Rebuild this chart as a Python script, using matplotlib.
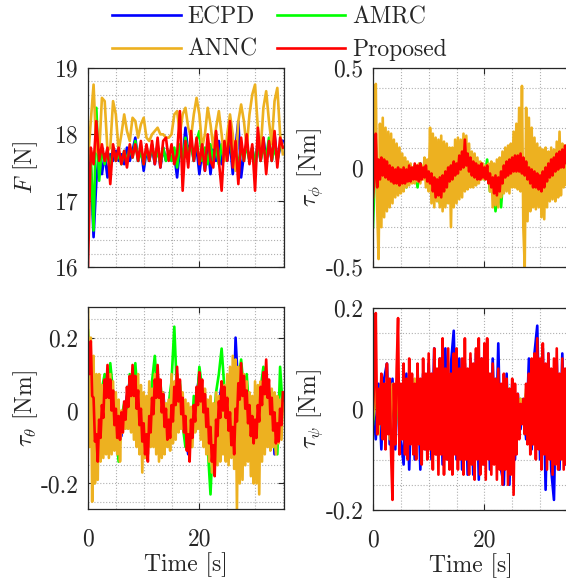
import numpy as np
import matplotlib
matplotlib.use("Agg")
import matplotlib.pyplot as plt
from matplotlib.ticker import MultipleLocator, FixedLocator, FixedFormatter

plt.rcParams['font.family'] = ['cmr10', 'DejaVu Serif']
plt.rcParams['mathtext.fontset'] = 'cm'
plt.rcParams['axes.unicode_minus'] = False
plt.rcParams['axes.formatter.use_mathtext'] = True

# ---------------- data ----------------
time_s = np.linspace(0, 35, 71)      # 0.5 s samples
time_fine = np.linspace(0, 35, 141)  # 0.25 s samples

methods = ['ECPD', 'AMRC', 'ANNC', 'Proposed']
colors = ['#0000ff', '#00ff00', '#EDB120', '#ff0000']

F_ECPD = [17.6, 17.5, 16.45, 17.3, 17.75, 17.4, 17.7, 17.35, 17.7, 17.6,
          17.75, 17.6, 17.7, 17.55, 17.8, 17.6, 17.75, 17.95, 17.6, 17.8,
          17.45, 17.75, 17.6, 17.8, 17.55, 17.85, 17.5, 17.8, 17.6, 17.75,
          17.6, 17.7, 17.35, 17.8, 17.6, 18.1, 17.7, 17.9, 17.6, 17.8,
          17.4, 17.75, 17.45, 17.85, 17.4, 17.8, 17.6, 17.9, 17.55, 17.75,
          17.6, 17.9, 17.4, 17.8, 18.2, 17.35, 17.7, 17.85, 17.6, 17.8,
          17.5, 17.9, 17.6, 17.95, 17.6, 17.85, 17.6, 18.0, 17.6, 17.8,
          17.9]
F_AMRC = [17.6, 17.7, 16.55, 18.4, 17.3, 17.8, 17.55, 17.75, 17.5, 17.8,
          17.6, 17.7, 17.55, 17.75, 17.6, 17.8, 17.65, 17.9, 17.6, 17.75,
          17.55, 17.8, 17.6, 17.85, 17.6, 17.75, 17.55, 17.8, 17.6, 17.75,
          17.6, 17.8, 17.5, 17.85, 17.6, 17.95, 17.7, 17.85, 17.6, 17.9,
          18.05, 17.6, 17.8, 17.55, 17.85, 17.6, 17.8, 17.55, 17.85, 17.6,
          17.8, 17.95, 17.6, 17.75, 17.55, 17.8, 17.6, 17.85, 17.6, 17.8,
          17.55, 17.85, 17.6, 17.8, 17.65, 17.95, 17.6, 17.8, 17.6, 17.85,
          17.8]
F_ANNC = [17.6, 18.2, 18.75, 17.75, 17.7, 18.55, 18.5, 17.75, 17.8, 18.5,
          18.3, 17.75, 18.0, 18.3, 18.05, 17.9, 18.25, 18.2, 17.95, 18.15,
          18.25, 17.95, 17.9, 18.0, 18.05, 18.1, 18.0, 18.0, 17.95, 17.95,
          18.0, 18.3, 18.35, 18.0, 18.3, 18.4, 18.1, 17.95, 18.3, 18.55,
          18.3, 17.8, 18.0, 18.4, 18.15, 17.8, 18.1, 18.35, 18.0, 17.6,
          18.0, 18.3, 18.0, 17.45, 18.2, 18.45, 18.2, 17.8, 18.3, 18.6,
          18.75, 18.1, 17.75, 18.4, 18.65, 18.2, 17.85, 18.5, 18.7, 18.0,
          17.7]
F_Proposed = [16.0, 17.8, 17.55, 18.2, 17.6, 17.85, 17.6, 17.8, 17.25, 17.85,
              17.6, 17.8, 17.55, 17.75, 17.5, 17.85, 17.65, 17.85, 17.6, 17.9,
              17.55, 17.85, 17.6, 17.9, 17.55, 17.95, 17.5, 17.9, 17.95, 17.6,
              17.85, 17.55, 17.7, 18.35, 17.15, 17.9, 17.5, 18.05, 17.6, 17.95,
              17.55, 17.85, 17.45, 18.0, 17.6, 17.5, 18.05, 17.6, 17.15, 17.9,
              17.6, 18.2, 17.5, 17.9, 17.25, 17.95, 17.6, 18.0, 17.55, 17.85,
              17.15, 18.1, 17.6, 17.95, 17.4, 17.9, 17.6, 18.05, 17.5, 17.95,
              17.8]

phi_ECPD = [-0.1, 0.1, -0.08, 0.04, -0.05, 0.03, -0.06, 0.0, -0.08, -0.02,
            -0.08, -0.02, -0.08, 0.0, -0.06, 0.0, -0.06, 0.02, -0.05, 0.0,
            -0.08, -0.02, -0.13, -0.05, -0.14, -0.05, -0.1, 0.0, -0.05, 0.03,
            -0.03, 0.06, 0.0, 0.12, -0.02, 0.05, -0.05, 0.02, -0.05, 0.01,
            -0.05, 0.0, -0.1, -0.04, -0.12, -0.05, -0.1, 0.0, -0.05, 0.04,
            -0.03, 0.05, -0.02, 0.06, -0.04, 0.03, -0.07, -0.01, -0.09, -0.03,
            -0.11, -0.04, -0.1, 0.0, -0.05, 0.04, -0.03, 0.08, 0.0, 0.1,
            0.1]
phi_AMRC = [-0.3, 0.12, -0.1, 0.04, -0.06, 0.03, -0.07, 0.0, -0.08, -0.01,
            -0.09, -0.02, -0.1, 0.0, -0.06, 0.01, -0.1, 0.02, -0.04, 0.0,
            -0.08, -0.03, -0.14, -0.05, -0.18, -0.07, -0.18, 0.0, -0.05, 0.04,
            -0.02, 0.1, 0.02, 0.14, 0.0, 0.05, -0.04, 0.02, -0.06, 0.02,
            -0.06, 0.04, -0.12, -0.05, -0.22, -0.1, -0.2, 0.0, -0.06, 0.05,
            -0.03, 0.06, -0.03, 0.07, -0.05, 0.02, -0.09, -0.02, -0.1, -0.02,
            -0.12, -0.04, -0.1, 0.0, -0.06, 0.05, -0.04, 0.08, 0.0, 0.1,
            0.0]
phi_ANNC = [-0.15, 0.1, 0.42, -0.2, -0.46, 0.22, -0.3, 0.25,
            -0.25, 0.2, -0.22, 0.18, -0.2, 0.17, -0.18, 0.14,
            -0.15, 0.12, -0.14, 0.1, -0.13, 0.07, -0.12, 0.05,
            -0.1, 0.03, -0.09, 0.02, -0.08, 0.0, -0.08, 0.01,
            -0.07, 0.02, -0.08, 0.01, -0.06, 0.05, -0.1, 0.04,
            -0.12, 0.2, -0.18, 0.17, -0.2, 0.15, -0.17, 0.14,
            -0.2, 0.16, -0.22, 0.13, -0.2, 0.12, -0.18, 0.1,
            -0.3, 0.1, -0.2, 0.14, -0.18, 0.15, -0.16, 0.14,
            -0.15, 0.17, -0.12, 0.16, -0.11, 0.12, -0.1, 0.08,
            -0.1, 0.07, -0.09, 0.05, -0.08, 0.03, -0.06, 0.02,
            -0.06, 0.01, -0.05, 0.02, -0.12, 0.03, -0.2, 0.02,
            -0.19, 0.04, -0.2, 0.05, -0.15, 0.08, -0.13, 0.1,
            -0.12, 0.11, -0.13, 0.12, -0.1, 0.18, -0.1, 0.22,
            -0.11, 0.3, -0.12, 0.41, -0.3, -0.5, 0.3, -0.27,
            0.25, -0.22, 0.2, -0.2, 0.15, -0.21, 0.12, -0.2,
            0.1, -0.25, 0.09, -0.26, 0.1, -0.2, 0.08, -0.17,
            0.1, -0.16, 0.09, -0.17, 0.13, -0.15, 0.18, -0.14,
            0.12, -0.1, 0.11, -0.09, 0.08]
phi_Proposed = [-0.15, -0.05, 0.17, -0.1, 0.04, -0.06, 0.05, -0.04,
                0.04, -0.05, 0.03, -0.06, 0.01, -0.07, 0.0, -0.08,
                -0.01, -0.08, 0.0, -0.09, -0.01, -0.08, 0.0, -0.08,
                -0.01, -0.07, 0.01, -0.07, 0.0, -0.06, 0.02, -0.06,
                0.01, -0.07, 0.02, -0.06, 0.0, -0.05, 0.01, -0.07,
                -0.02, -0.08, -0.03, -0.12, -0.05, -0.15, -0.06, -0.14,
                -0.05, -0.15, -0.04, -0.12, -0.02, -0.1, 0.0, -0.07,
                0.01, -0.06, 0.03, -0.04, 0.02, -0.03, 0.06, -0.01,
                0.08, 0.0, 0.14, 0.01, 0.07, -0.02, 0.05, -0.04,
                0.03, -0.05, 0.02, -0.06, 0.01, -0.06, 0.02, -0.05,
                0.0, -0.06, 0.01, -0.08, -0.03, -0.1, -0.05, -0.13,
                -0.04, -0.14, -0.05, -0.12, -0.02, -0.08, 0.01, -0.05,
                0.03, -0.04, 0.04, -0.03, 0.05, -0.02, 0.06, -0.02,
                0.06, -0.02, 0.07, -0.03, 0.05, -0.04, 0.03, -0.06,
                0.0, -0.08, -0.01, -0.1, -0.02, -0.1, -0.03, -0.11,
                -0.04, -0.12, -0.02, -0.1, 0.0, -0.07, 0.02, -0.05,
                0.04, -0.04, 0.05, -0.02, 0.07, -0.01, 0.08, 0.0,
                0.09, 0.0, 0.11, 0.02, 0.05]

theta_ECPD = [0.1, 0.15, -0.05, -0.12, 0.02, -0.1, 0.07, 0.1, 0.02, 0.05,
              -0.05, -0.02, -0.07, 0.0, 0.04, 0.08, 0.1, 0.04, 0.02, -0.05,
              -0.02, -0.12, -0.05, 0.0, 0.05, 0.1, 0.02, 0.05, -0.04, -0.08,
              0.0, 0.05, 0.1, 0.03, 0.0, -0.07, -0.12, -0.02, -0.05, 0.04,
              0.1, 0.02, 0.04, -0.05, -0.02, -0.15, -0.05, 0.02, 0.07, 0.0,
              0.04, -0.07, -0.1, 0.2, 0.05, 0.1, 0.04, 0.07, -0.04, -0.08,
              -0.02, -0.05, 0.04, 0.08, 0.1, 0.02, 0.05, -0.12, -0.08, 0.0,
              0.03]
theta_AMRC = [0.22, 0.1, -0.2, 0.05, -0.1, 0.06, 0.1, 0.0, 0.13, 0.05,
              -0.05, -0.14, -0.02, 0.02, -0.04, 0.1, 0.04, 0.13, 0.02, -0.05,
              -0.1, 0.0, -0.06, 0.08, 0.15, 0.04, 0.08, -0.03, -0.06, 0.02,
              0.08, 0.23, 0.04, 0.08, -0.04, -0.1, -0.02, -0.1, 0.04, 0.0,
              0.12, 0.06, 0.03, -0.1, -0.23, -0.05, 0.05, 0.1, 0.17, 0.06,
              0.0, -0.06, -0.1, 0.0, 0.08, 0.14, 0.05, 0.1, -0.02, -0.08,
              0.02, -0.04, 0.06, 0.12, 0.08, 0.0, -0.05, -0.1, -0.12, 0.12,
              0.0]
theta_ANNC = [0.284, -0.1, 0.2, -0.25, 0.15, -0.2, 0.1, -0.19,
              0.1, -0.14, 0.07, -0.13, 0.05, -0.12, 0.08, -0.13,
              0.1, -0.12, 0.08, -0.11, 0.05, -0.12, 0.03, -0.14,
              0.0, -0.06, 0.01, -0.05, 0.0, -0.05, 0.04, -0.06,
              0.08, -0.08, 0.07, -0.1, 0.1, -0.12, 0.07, -0.17,
              0.05, -0.13, 0.04, -0.12, 0.08, -0.1, 0.06, -0.1,
              0.1, -0.12, 0.08, -0.14, 0.06, -0.13, 0.05, -0.12,
              0.02, -0.1, 0.03, -0.11, 0.1, -0.09, 0.08, -0.08,
              0.1, -0.06, 0.07, -0.05, 0.05, -0.06, 0.03, -0.07,
              0.02, -0.08, 0.01, -0.1, 0.0, -0.06, 0.01, -0.05,
              0.05, -0.08, 0.04, -0.1, 0.06, -0.12, 0.03, -0.14,
              0.04, -0.17, 0.02, -0.16, 0.05, -0.15, 0.04, -0.14,
              0.08, -0.12, 0.07, -0.14, 0.1, -0.15, 0.12, -0.13,
              0.15, -0.16, 0.14, -0.27, 0.12, -0.2, 0.11, -0.19,
              0.1, -0.15, 0.08, -0.14, 0.05, -0.18, 0.04, -0.2,
              0.08, -0.2, 0.07, -0.23, 0.08, -0.14, 0.06, -0.12,
              0.05, -0.1, 0.04, -0.11, 0.06, -0.1, 0.05, -0.12,
              0.04, -0.09, 0.03, -0.08, 0.02]
theta_Proposed = [0.16, 0.1, 0.19, 0.04, 0.035, -0.085, -0.065, -0.14,
                  -0.025, -0.075, 0.015, -0.02, 0.085, 0.035, 0.125, 0.035,
                  0.085, 0.0, 0.055, -0.04, 0.005, -0.075, -0.015, -0.08,
                  -0.005, -0.06, 0.025, -0.025, 0.065, 0.01, 0.095, 0.04,
                  0.125, 0.04, 0.095, 0.005, 0.055, -0.04, 0.005, -0.085,
                  -0.035, -0.12, -0.065, -0.14, -0.015, -0.06, 0.035, -0.01,
                  0.085, 0.035, 0.125, 0.035, 0.085, -0.005, 0.045, -0.045,
                  0.005, -0.08, -0.025, -0.075, 0.015, -0.03, 0.065, 0.015,
                  0.12, 0.025, 0.085, -0.01, 0.035, -0.06, -0.015, -0.11,
                  -0.065, -0.14, -0.025, -0.075, 0.015, -0.03, 0.065, 0.015,
                  0.105, 0.025, 0.085, -0.005, 0.045, -0.045, 0.005, -0.09,
                  -0.045, -0.14, -0.095, -0.18, -0.025, -0.07, 0.025, -0.02,
                  0.08, 0.0, 0.065, -0.02, 0.035, -0.055, -0.005, -0.095,
                  -0.045, -0.12, 0.005, -0.03, 0.075, 0.03, 0.13, 0.04,
                  0.095, 0.005, 0.055, -0.035, 0.015, -0.07, -0.015, -0.09,
                  -0.025, -0.075, 0.015, -0.03, 0.065, 0.015, 0.105, 0.045,
                  0.14, 0.035, 0.085, -0.01, 0.035, -0.055, -0.005, -0.09,
                  -0.035, -0.085, 0.005, -0.04, 0.05]

psi_ECPD = [0.02, -0.06, 0.05, -0.08, 0.06, 0.09, -0.07, 0.06, -0.08, 0.07,
            -0.06, -0.11, 0.07, -0.12, 0.06, -0.1, 0.08, -0.12, 0.07, -0.08,
            0.09, -0.1, 0.12, -0.09, 0.1, -0.11, 0.12, -0.1, 0.09, 0.155,
            -0.1, 0.1, -0.12, 0.09, -0.13, 0.1, -0.13, 0.11, -0.14, 0.1,
            -0.11, 0.09, -0.12, 0.1, -0.1, 0.13, -0.12, -0.15, 0.07, -0.15,
            0.05, -0.1, 0.03, -0.04, 0.02, -0.06, 0.1, -0.08, 0.11, 0.165,
            -0.1, 0.12, -0.16, 0.11, -0.12, -0.18, 0.1, -0.12, 0.11, -0.11,
            0.1]
psi_AMRC = [-0.03, 0.04, -0.04, 0.05, -0.05, 0.05, -0.05, 0.04, -0.05, 0.05,
            -0.05, 0.05, -0.05, 0.05, -0.05, 0.05, -0.06, 0.05, -0.05, 0.05,
            -0.05, 0.05, -0.06, 0.06, -0.05, 0.06, -0.06, 0.05, -0.05, 0.06,
            -0.06, 0.05, -0.06, 0.06, -0.06, 0.05, -0.06, 0.06, -0.05, 0.05,
            -0.05, 0.05, -0.06, 0.05, -0.05, 0.04, -0.05, 0.04, -0.05, 0.04,
            -0.04, 0.03, -0.03, 0.02, -0.02, 0.03, -0.04, 0.05, -0.05, 0.05,
            -0.05, 0.06, -0.06, 0.05, -0.05, 0.06, -0.06, 0.05, -0.05, 0.05,
            -0.04]
psi_ANNC = [-0.02, 0.05, -0.05, 0.06, -0.05, 0.05, -0.06, 0.05, -0.05, 0.06,
            -0.06, 0.05, -0.06, 0.06, -0.05, 0.06, -0.06, 0.05, -0.06, 0.06,
            -0.05, 0.06, -0.06, 0.07, -0.06, 0.06, -0.07, 0.06, -0.06, 0.07,
            -0.06, 0.06, -0.07, 0.06, -0.06, 0.07, -0.07, 0.06, -0.06, 0.06,
            -0.06, 0.05, -0.07, 0.05, -0.06, 0.04, -0.06, 0.05, -0.06, 0.04,
            -0.05, 0.03, -0.03, 0.02, -0.02, 0.04, -0.05, 0.06, -0.06, 0.07,
            -0.06, 0.07, -0.07, 0.06, -0.06, 0.07, -0.07, 0.06, -0.06, 0.06,
            -0.05]
psi_Proposed = [0.0, 0.06, 0.19, -0.05, 0.04, -0.03, 0.07, -0.06,
                0.05, -0.08, 0.09, -0.05, 0.06, -0.09, -0.18, 0.05,
                -0.07, 0.08, 0.18, -0.09, 0.05, -0.06, 0.09, -0.09,
                0.06, -0.1, 0.1, -0.07, 0.07, -0.09, 0.05, -0.1,
                0.09, -0.07, 0.06, -0.11, 0.1, -0.08, 0.07, -0.1,
                0.11, -0.08, 0.07, -0.12, 0.12, -0.09, 0.08, -0.13,
                0.1, -0.09, 0.14, -0.13, 0.08, -0.1, 0.12, -0.12,
                0.07, -0.13, 0.11, -0.09, 0.12, -0.12, 0.08, -0.1,
                0.1, -0.13, 0.14, -0.1, 0.08, -0.13, 0.11, -0.11,
                0.09, -0.14, 0.12, -0.1, 0.14, -0.13, 0.1, -0.11,
                0.13, -0.14, 0.14, -0.1, 0.07, -0.13, 0.09, -0.11,
                0.06, -0.14, 0.08, -0.12, 0.05, -0.15, 0.07, -0.12,
                0.06, -0.15, 0.04, -0.13, 0.06, -0.17, 0.05, -0.09,
                0.03, -0.06, 0.01, -0.03, 0.02, -0.05, 0.05, -0.07,
                0.07, -0.09, 0.1, -0.07, 0.11, -0.1, 0.14, -0.08,
                0.1, -0.12, 0.13, -0.09, 0.09, -0.12, 0.11, -0.1,
                0.08, -0.13, 0.1, -0.11, 0.12, -0.12, 0.07, -0.1,
                0.1, -0.12, 0.08, -0.11, 0.09]

panels = [
    dict(series=[(time_s, F_ECPD), (time_s, F_AMRC), (time_s, F_ANNC), (time_s, F_Proposed)],
         ylabel=r'$F$ [N]', ylim=(16, 19), yticks=[16, 17, 18, 19],
         yticklabels=['16', '17', '18', '19'], yminor=0.2, bottom=False),
    dict(series=[(time_s, phi_ECPD), (time_s, phi_AMRC), (time_fine, phi_ANNC), (time_fine, phi_Proposed)],
         ylabel=r'$\tau_{\phi}$ [Nm]', ylim=(-0.5, 0.5), yticks=[-0.5, 0, 0.5],
         yticklabels=['-0.5', '0', '0.5'], yminor=0.1, bottom=False),
    dict(series=[(time_s, theta_ECPD), (time_s, theta_AMRC), (time_fine, theta_ANNC), (time_fine, theta_Proposed)],
         ylabel=r'$\tau_{\theta}$ [Nm]', ylim=(-0.27, 0.284), yticks=[-0.2, 0, 0.2],
         yticklabels=['-0.2', '0', '0.2'], yminor=0.05, bottom=True),
    dict(series=[(time_s, psi_ECPD), (time_s, psi_AMRC), (time_s, psi_ANNC), (time_fine, psi_Proposed)],
         ylabel=r'$\tau_{\psi}$ [Nm]', ylim=(-0.2, 0.2), yticks=[-0.2, 0, 0.2],
         yticklabels=['-0.2', '0', '0.2'], yminor=0.05, bottom=True),
]
xticks = [0, 20]
xticklabels = ['0', '20']

# ---------------- layout ----------------
W, H = 566, 587
fig = plt.figure(figsize=(W / 100, H / 100), dpi=100)
boxes = [(88, 68, 196, 199), (373, 68, 196, 199), (88, 307, 196, 202), (373, 308, 196, 202)]
txt_color = '#262626'
fs = 17

axes = []
for p, (x0, y0, w, h) in zip(panels, boxes):
    ax = fig.add_axes([x0 / W, 1 - (y0 + h) / H, w / W, h / H])
    for (tt, ser), c, name in zip(p['series'], colors, methods):
        ax.plot(tt, ser, color=c, lw=1.9, label=name)
    ax.set_xlim(0, 35.2)
    ax.set_ylim(*p['ylim'])
    ax.xaxis.set_major_locator(FixedLocator(xticks))
    ax.xaxis.set_major_formatter(FixedFormatter(xticklabels))
    ax.yaxis.set_major_locator(FixedLocator(p['yticks']))
    ax.yaxis.set_major_formatter(FixedFormatter(p['yticklabels']))
    ax.xaxis.set_minor_locator(MultipleLocator(5))
    ax.yaxis.set_minor_locator(MultipleLocator(p['yminor']))
    ax.tick_params(which='major', direction='in', length=4, width=0.8,
                   top=True, right=True, labelsize=fs, color=txt_color, labelcolor=txt_color)
    ax.tick_params(which='minor', length=0)
    ax.tick_params(axis='y', pad=7)
    ax.tick_params(axis='x', pad=14)
    ax.grid(which='both', linestyle=':', color='#b0b0b0', linewidth=0.8)
    ax.set_axisbelow(True)
    for s in ax.spines.values():
        s.set_color(txt_color)
        s.set_linewidth(0.9)
    ax.set_ylabel(p['ylabel'], fontsize=fs, color=txt_color)
    ax.yaxis.set_label_coords(-0.245, 0.5)
    if p['bottom']:
        ax.set_xlabel('Time [s]', fontsize=fs, color=txt_color, labelpad=1)
    else:
        ax.tick_params(axis='x', labelbottom=False)
    axes.append(ax)

h = axes[0].get_lines()
fig.legend([h[0], h[2], h[1], h[3]], [methods[0], methods[2], methods[1], methods[3]],
           ncol=2, loc='upper center', bbox_to_anchor=(0.494, 1.018), frameon=False,
           fontsize=fs, handlelength=2.9, handletextpad=0.3, columnspacing=0.8,
           labelspacing=0.45, borderpad=0.2, labelcolor=txt_color)

fig.savefig('out.png', dpi=100)
